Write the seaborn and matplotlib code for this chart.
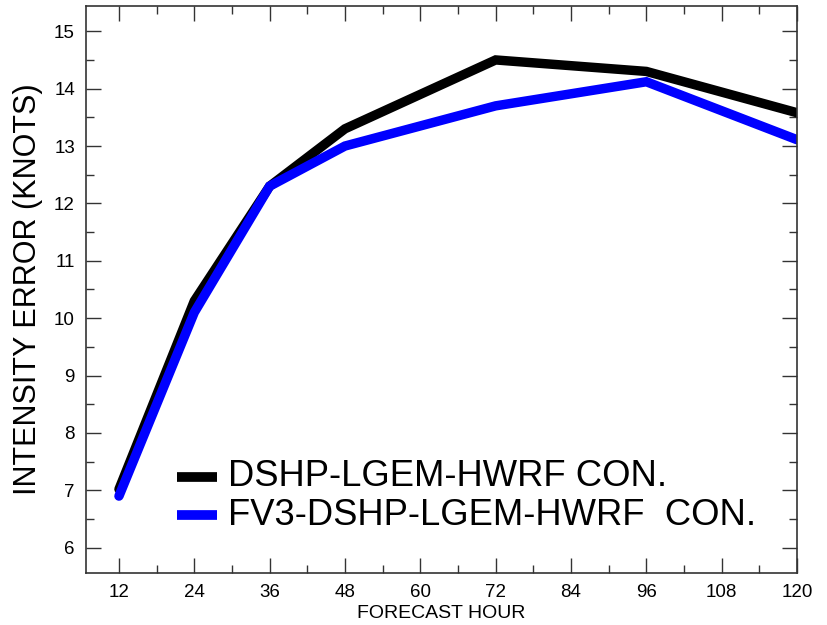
import matplotlib
matplotlib.use("Agg")
import matplotlib.pyplot as plt
import seaborn as sns
import pandas as pd
from matplotlib.ticker import MultipleLocator

hours = [12, 24, 36, 48, 72, 96, 120]
dshp_con = [7.02, 10.3, 12.3, 13.3, 14.5, 14.3, 13.58]
fv3_con = [6.9, 10.1, 12.3, 13.0, 13.7, 14.12, 13.11]
series_names = ["DSHP-LGEM-HWRF CON.", "FV3-DSHP-LGEM-HWRF  CON."]
colors = ["#000000", "#0000ff"]
xticks = [12, 24, 36, 48, 60, 72, 84, 96, 108, 120]
yticks = [6, 7, 8, 9, 10, 11, 12, 13, 14, 15]

df = pd.concat([
    pd.DataFrame({"hour": hours, "err": dshp_con, "model": series_names[0]}),
    pd.DataFrame({"hour": hours, "err": fv3_con, "model": series_names[1]}),
])

sns.set_theme(style="ticks")
plt.rcParams["font.family"] = ["Liberation Sans", "DejaVu Sans"]
plt.rcParams["text.color"] = "black"
plt.rcParams["axes.labelcolor"] = "black"
plt.rcParams["xtick.color"] = "#333333"
plt.rcParams["ytick.color"] = "#333333"
plt.rcParams["xtick.labelcolor"] = "black"
plt.rcParams["ytick.labelcolor"] = "black"

fig = plt.figure(figsize=(8.27, 6.25), dpi=100)
ax = fig.add_axes([86 / 827, 1 - 573 / 625, (797 - 86) / 827, (573 - 6) / 625])

sns.lineplot(data=df, x="hour", y="err", hue="model", palette=colors,
             linewidth=6.8, ax=ax, legend=False, solid_joinstyle="miter")

ax.set_xlim(6.75, 120)
ax.set_ylim(5.56, 15.44)
ax.set_xticks(xticks)
ax.set_yticks(yticks)
ax.xaxis.set_minor_locator(MultipleLocator(6))
ax.yaxis.set_minor_locator(MultipleLocator(0.5))
ax.tick_params(which="major", direction="in", length=11, width=1.0,
               top=True, right=True, labelsize=13.5, pad=8)
ax.tick_params(which="minor", direction="in", length=5.5, width=1.0,
               top=True, right=True)
ax.tick_params(axis="x", labeltop=False)
ax.tick_params(axis="y", labelright=False)
for s in ax.spines.values():
    s.set_linewidth(1.2)
    s.set_color("#333333")

ax.set_xlabel("FORECAST HOUR", fontsize=14, labelpad=3)
ax.set_ylabel("INTENSITY ERROR (KNOTS)", fontsize=22, labelpad=8)

# legend drawn as text/lines in axes coordinates
for i, (name, c) in enumerate(zip(series_names, colors)):
    y = 0.17 - i * 0.068
    ax.plot([0.128, 0.184], [y, y], transform=ax.transAxes, color=c, linewidth=7,
            solid_capstyle="butt")
    ax.text(0.2, y, name, transform=ax.transAxes, fontsize=26.2, va="center",
            ha="left", color="black")

fig.savefig("out.png", dpi=100)
